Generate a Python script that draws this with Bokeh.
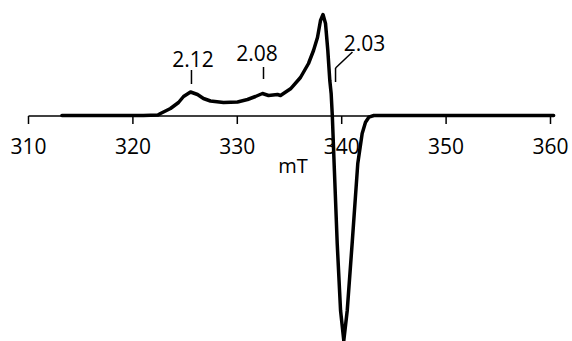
from bokeh.plotting import figure
from bokeh.models import Range1d, ColumnDataSource
from bokeh.core.properties import value
from bokeh.embed import file_html
from bokeh.resources import INLINE

# ---- data ----
field_mT = [313.2, 315.0, 318.0, 321.0, 322.4, 322.64, 323.60, 324.37, 324.85, 325.52,
            326.19, 326.76, 327.43, 328.68, 330.02, 330.98, 331.74, 332.41, 332.99,
            333.85, 334.14, 335.10, 336.05, 336.82, 337.30, 337.68, 337.97, 338.21,
            338.45, 338.67, 338.86, 338.99, 339.10, 339.30, 339.57, 339.89, 340.20,
            340.53, 341.00, 341.54, 341.96, 342.28, 342.60, 343.08, 345.0, 350.0,
            355.0, 360.3]
signal = [0, 0, 0, 0, 0.5, 2, 7, 13, 19, 23.5,
          21, 17, 14.5, 13, 13.5, 16, 19, 22, 20,
          21, 20, 26.7, 38, 52, 65, 78, 95, 101,
          92, 65, 35, 22, 0, -55, -128, -195, -225,
          -195, -128, -48, -18, -6.7, -1.7, 0, 0, 0,
          0, 0]

tick_values = [310, 320, 330, 340, 350, 360]
tick_labels = ["310", "320", "330", "340", "350", "360"]

g_labels = ["2.12", "2.08", "2.03"]
g_field = [325.61, 332.51, 339.41]

# ---- layout constants ----
X0, X1 = 307.318, 362.107
Y0, Y1 = -226, 115
FONT = value("Open Sans")

p = figure(width=572, height=341, output_backend="svg", toolbar_location=None,
           x_range=Range1d(X0, X1), y_range=Range1d(Y0, Y1),
           min_border=0, min_border_left=0, min_border_right=0,
           min_border_top=0, min_border_bottom=0)
p.xaxis.visible = False
p.yaxis.visible = False
p.xgrid.visible = False
p.ygrid.visible = False
p.outline_line_color = None
p.background_fill_color = "white"
p.border_fill_color = "white"

# axis line drawn through y = 0
p.segment(x0=[tick_values[0]], y0=[-0.5], x1=[tick_values[-1]], y1=[-0.5],
          line_color="black", line_width=1.5)
# ticks (pointing down)
p.segment(x0=tick_values, y0=[-0.5] * len(tick_values), x1=tick_values,
          y1=[-8.5] * len(tick_values), line_color="black", line_width=1.5)
# tick labels
p.text(x=tick_values, y=[-30.5] * len(tick_values), text=tick_labels,
       text_font=FONT, text_font_size="21px", text_align="center",
       text_baseline="alphabetic", text_color="black")
# axis title
p.text(x=[335.33], y=[-49.5], text=["mT"], text_font=FONT, text_font_size="20px",
       text_align="center", text_baseline="alphabetic", text_color="black")

# spectrum
src = ColumnDataSource(dict(x=field_mT, y=signal))
p.line("x", "y", source=src, line_color="black", line_width=3.5,
       line_join="round", line_cap="round")

# g-value markers
p.segment(x0=g_field[:2], y0=[45.5, 48.5], x1=g_field[:2], y1=[31.5, 36.5],
          line_color="black", line_width=1.5)
p.segment(x0=[g_field[2]], y0=[47.5], x1=[g_field[2]], y1=[33.5],
          line_color="black", line_width=1.5)
p.segment(x0=[g_field[2]], y0=[47.5], x1=[341.03], y1=[63.5],
          line_color="black", line_width=1.5)
p.text(x=[325.76, 331.89, 342.18], y=[56.5, 62.5, 72.5], text=g_labels,
       text_font=FONT, text_font_size="21px", text_align="center",
       text_baseline="alphabetic", text_color="black")

open("out.html", "w").write(file_html(p, INLINE))
